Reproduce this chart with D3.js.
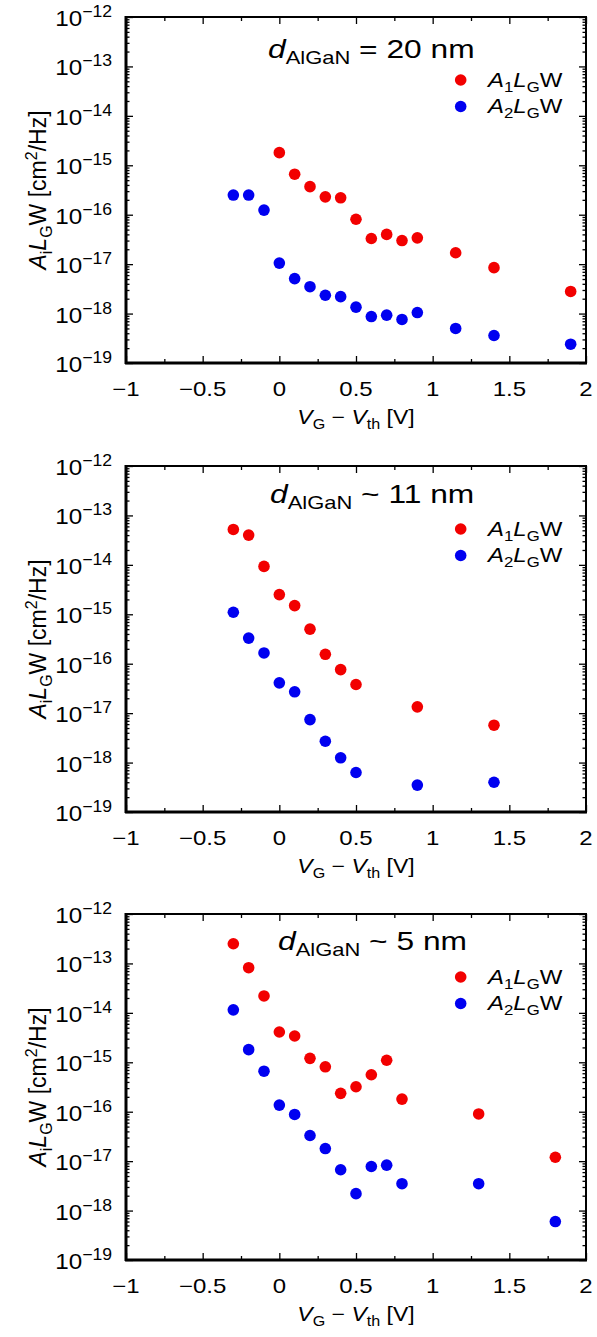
<!DOCTYPE html>
<html><head><meta charset="utf-8">
<script src="https://cdn.jsdelivr.net/npm/d3@7"></script>
<style>body{margin:0;background:#fff}svg{display:block}text{font-family:"Liberation Sans",Arial,sans-serif;fill:#000}</style>
</head><body><svg id="c" width="597" height="1337"></svg>
<script>
// ---- data ----
const xTicks = [-1, -0.5, 0, 0.5, 1, 1.5, 2];
const xTickLabels = ["−1", "−0.5", "0", "0.5", "1", "1.5", "2"];
const xMinorTicks = [-0.75, -0.25, 0.25, 0.75, 1.25, 1.75];
const yExponents = [-12, -13, -14, -15, -16, -17, -18, -19];
const panelTitles = ["= 20 nm", "~ 11 nm", "~ 5 nm"];

const p1_A1_x = [0, 0.1, 0.2, 0.3, 0.4, 0.5, 0.6, 0.7, 0.8, 0.9, 1.15, 1.4, 1.9];
const p1_A1_y = [1.8e-15, 6.6e-16, 3.7e-16, 2.3e-16, 2.2e-16, 8.1e-17, 3.3e-17, 4.0e-17, 3.0e-17, 3.4e-17, 1.7e-17, 8.5e-18, 2.8e-18];
const p1_A2_x = [-0.3, -0.2, -0.1, 0, 0.1, 0.2, 0.3, 0.4, 0.5, 0.6, 0.7, 0.8, 0.9, 1.15, 1.4, 1.9];
const p1_A2_y = [2.5e-16, 2.5e-16, 1.24e-16, 1.05e-17, 5.1e-18, 3.5e-18, 2.35e-18, 2.2e-18, 1.35e-18, 8.7e-19, 9.3e-19, 7.6e-19, 1.05e-18, 5.0e-19, 3.6e-19, 2.4e-19];

const p2_A1_x = [-0.3, -0.2, -0.1, 0, 0.1, 0.2, 0.3, 0.4, 0.5, 0.9, 1.4];
const p2_A1_y = [5.2e-14, 4.0e-14, 9.3e-15, 2.5e-15, 1.5e-15, 5.0e-16, 1.55e-16, 7.6e-17, 3.8e-17, 1.34e-17, 5.7e-18];
const p2_A2_x = [-0.3, -0.2, -0.1, 0, 0.1, 0.2, 0.3, 0.4, 0.5, 0.9, 1.4];
const p2_A2_y = [1.1e-15, 3.3e-16, 1.65e-16, 4.1e-17, 2.7e-17, 7.4e-18, 2.7e-18, 1.25e-18, 6.3e-19, 3.5e-19, 4.0e-19];

const p3_A1_x = [-0.3, -0.2, -0.1, 0, 0.1, 0.2, 0.3, 0.4, 0.5, 0.6, 0.7, 0.8, 1.3, 1.8];
const p3_A1_y = [2.5e-13, 8.2e-14, 2.2e-14, 4.1e-15, 3.4e-15, 1.2e-15, 8.1e-16, 2.35e-16, 3.2e-16, 5.6e-16, 1.1e-15, 1.8e-16, 9e-17, 1.2e-17];
const p3_A2_x = [-0.3, -0.2, -0.1, 0, 0.1, 0.2, 0.3, 0.4, 0.5, 0.6, 0.7, 0.8, 1.3, 1.8];
const p3_A2_y = [1.15e-14, 1.8e-15, 6.6e-16, 1.36e-16, 8.8e-17, 3.3e-17, 1.8e-17, 6.7e-18, 2.2e-18, 7.8e-18, 8.3e-18, 3.5e-18, 3.5e-18, 6.0e-19];

const panels = [
  {title: panelTitles[0], a1x: p1_A1_x, a1y: p1_A1_y, a2x: p1_A2_x, a2y: p1_A2_y},
  {title: panelTitles[1], a1x: p2_A1_x, a1y: p2_A1_y, a2x: p2_A2_x, a2y: p2_A2_y},
  {title: panelTitles[2], a1x: p3_A1_x, a1y: p3_A1_y, a2x: p3_A2_x, a2y: p3_A2_y}
];

// ---- layout ----
const RED = "#f20000", BLUE = "#0000f0";
const left = 126, right = 586, plotH = 346;
const tops = [17, 466, 914];
const titleX = [268, 270, 278];
const titleDy = [41, 37, 36];
const DOT_R = 5.8;

const svg = d3.select("#c");
const x = d3.scaleLinear().domain([-1, 2]).range([left, right]);

const yMinor = [];
for (let d = -19; d <= -13; d++) for (let m = 2; m <= 9; m++) yMinor.push(m * Math.pow(10, d));

function stext(g, tx, ty, size, sx, anchor) {
  return g.append("text").attr("transform", `translate(${tx},${ty}) scale(${sx},1)`)
    .attr("text-anchor", anchor || "start").attr("font-size", size);
}

panels.forEach((p, i) => {
  const top = tops[i], bottom = top + plotH;
  const y = d3.scaleLog().domain([1e-19, 1e-12]).range([bottom, top]);
  const g = svg.append("g");
  const clean = s => s.call(a => a.select(".domain").remove()).call(a => a.selectAll("line").attr("stroke-width", 1.3));

  g.append("g").attr("transform", `translate(0,${bottom})`)
    .call(d3.axisBottom(x).tickValues(xTicks).tickSize(-7).tickFormat("")).call(clean);
  g.append("g").attr("transform", `translate(0,${bottom})`)
    .call(d3.axisBottom(x).tickValues(xMinorTicks).tickSize(-4).tickFormat("")).call(clean);
  g.append("g").attr("transform", `translate(0,${top})`)
    .call(d3.axisTop(x).tickValues(xTicks).tickSize(-7).tickFormat("")).call(clean);
  g.append("g").attr("transform", `translate(0,${top})`)
    .call(d3.axisTop(x).tickValues(xMinorTicks).tickSize(-4).tickFormat("")).call(clean);

  const yMajor = yExponents.map(e => Math.pow(10, e));
  g.append("g").attr("transform", `translate(${left},0)`)
    .call(d3.axisLeft(y).tickValues(yMajor).tickSize(-7).tickFormat("")).call(clean);
  g.append("g").attr("transform", `translate(${left},0)`)
    .call(d3.axisLeft(y).tickValues(yMinor).tickSize(-3.5).tickFormat("")).call(clean);
  g.append("g").attr("transform", `translate(${right},0)`)
    .call(d3.axisRight(y).tickValues(yMajor).tickSize(-7).tickFormat("")).call(clean);
  g.append("g").attr("transform", `translate(${right},0)`)
    .call(d3.axisRight(y).tickValues(yMinor).tickSize(-3.5).tickFormat("")).call(clean);

  // frame
  g.append("rect").attr("x", left).attr("y", top).attr("width", right - left).attr("height", plotH)
    .attr("fill", "none").attr("stroke", "#000").attr("stroke-width", 2);
  g.append("line").attr("x1", left).attr("x2", left).attr("y1", top - 1).attr("y2", bottom + 1)
    .attr("stroke", "#000").attr("stroke-width", 3);
  g.append("line").attr("x1", left - 1).attr("x2", right + 1).attr("y1", bottom).attr("y2", bottom)
    .attr("stroke", "#000").attr("stroke-width", 3);

  // x tick labels
  xTicks.forEach((d, k) => {
    stext(g, x(d), bottom + 33, 20, 1.2, "middle").text(xTickLabels[k]);
  });

  // y tick labels
  yExponents.forEach(e => {
    const t = stext(g, 112, y(Math.pow(10, e)) + 9, 22, 1.1, "end");
    t.append("tspan").text("10");
    t.append("tspan").attr("dy", -9).attr("font-size", 16).text("−" + Math.abs(e));
  });

  // x axis title
  const xt = stext(g, (left + right) / 2, bottom + 61, 20, 1.15, "middle");
  xt.append("tspan").attr("font-style", "italic").text("V");
  xt.append("tspan").attr("dy", 5).attr("font-size", 14).text("G");
  xt.append("tspan").attr("dy", -5).text(" − ");
  xt.append("tspan").attr("font-style", "italic").text("V");
  xt.append("tspan").attr("dy", 5).attr("font-size", 14).text("th");
  xt.append("tspan").attr("dy", -5).text(" [V]");

  // y axis title
  const yt = g.append("text").attr("transform", `translate(46,${(top + bottom) / 2}) rotate(-90)`)
    .attr("text-anchor", "middle").attr("font-size", 23);
  yt.append("tspan").attr("font-style", "italic").text("A");
  yt.append("tspan").attr("dy", 6).attr("font-size", 16).text("i");
  yt.append("tspan").attr("dy", -6).attr("font-style", "italic").text("L");
  yt.append("tspan").attr("dy", 6).attr("font-size", 16).text("G");
  yt.append("tspan").attr("dy", -6).text("W [cm");
  yt.append("tspan").attr("dy", -9).attr("font-size", 16).text("2");
  yt.append("tspan").attr("dy", 9).text("/Hz]");

  // panel title
  const tt = stext(g, titleX[i], top + titleDy[i], 26, 1.22, "start");
  tt.append("tspan").attr("font-style", "italic").text("d");
  tt.append("tspan").attr("dy", 6).attr("font-size", 18).text("AlGaN");
  tt.append("tspan").attr("dy", -6).text(" " + p.title);

  // legend
  const lg = [{c: RED, n: "1", dy: 63}, {c: BLUE, n: "2", dy: 89.5}];
  lg.forEach(l => {
    g.append("circle").attr("cx", 460.7).attr("cy", top + l.dy).attr("r", DOT_R).attr("fill", l.c);
    const lt = stext(g, 488, top + l.dy + 6.5, 20, 1.2, "start");
    lt.append("tspan").attr("font-style", "italic").text("A");
    lt.append("tspan").attr("dy", 5).attr("font-size", 14).text(l.n);
    lt.append("tspan").attr("dy", -5).attr("font-style", "italic").text("L");
    lt.append("tspan").attr("dy", 5).attr("font-size", 14).text("G");
    lt.append("tspan").attr("dy", -5).text("W");
  });

  // points
  const pts = g.append("g");
  pts.selectAll(".a1").data(p.a1x.map((v, k) => [v, p.a1y[k]])).enter().append("circle")
    .attr("cx", d => x(d[0])).attr("cy", d => y(d[1])).attr("r", DOT_R).attr("fill", RED);
  pts.selectAll(".a2").data(p.a2x.map((v, k) => [v, p.a2y[k]])).enter().append("circle")
    .attr("cx", d => x(d[0])).attr("cy", d => y(d[1])).attr("r", DOT_R).attr("fill", BLUE);
});
</script></body></html>
